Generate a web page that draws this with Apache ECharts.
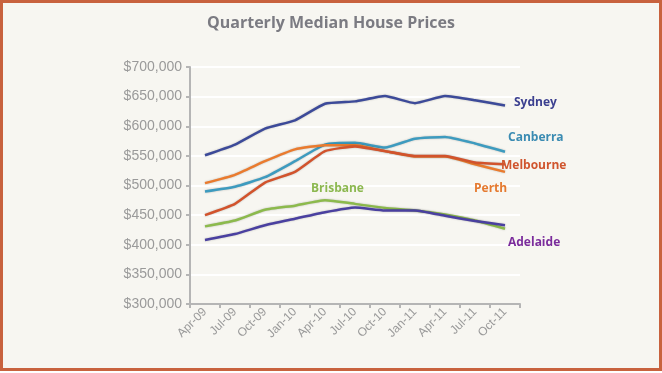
<!DOCTYPE html>
<html><head><meta charset="utf-8">
<script src="https://cdn.jsdelivr.net/npm/echarts@6/dist/echarts.min.js"></script>
<style>
html,body{margin:0;padding:0;background:#fff;}
#c{position:absolute;left:0;top:0;width:656px;height:365px;border:3px solid #c8623e;background:#f7f6f1;}
</style></head>
<body><div id="c"></div>
<script>
const categories = ['Apr-09','Jul-09','Oct-09','Jan-10','Apr-10','Jul-10','Oct-10','Jan-11','Apr-11','Jul-11','Oct-11'];
const sydney    = [551000,569000,596000,610000,638000,642000,651000,639000,651000,644000,635000];
const canberra  = [490000,498000,514000,541000,569000,572000,564000,579000,582000,571000,557000];
const melbourne = [450000,469000,505000,523000,558000,566000,558000,550000,550000,539000,536000];
const perth     = [504000,518000,541000,561000,568000,568000,558000,549000,549000,536000,523000];
const brisbane  = [431000,441000,459000,466000,475000,469000,462000,458000,451000,441000,427000];
const adelaide  = [408000,418000,433000,444000,455000,463000,458000,458000,449000,440000,433000];
const yTicks = [300000,350000,400000,450000,500000,550000,600000,650000,700000];

const chart = echarts.init(document.getElementById('c'));
function mk(name, data, color){
  return {name, type:'line', data, symbol:'none', smooth:0.15,
    lineStyle:{color, width:2.5, shadowColor:'rgba(0,0,0,0.25)', shadowBlur:2},
    itemStyle:{color}};
}
function lbl(text, x, y, color){
  return {type:'text', left:x, top:y, z:100, style:{text, fill:color, font:'bold 12px "Open Sans", sans-serif'}};
}
chart.setOption({
  animation:false,
  title:{text:'Quarterly Median House Prices', left:'center', top:7,
    textStyle:{color:'#7b7b82', fontSize:16, fontWeight:'bold', fontFamily:'"Open Sans", sans-serif'}},
  grid:{left:187, right:139, top:64, bottom:64},
  xAxis:{type:'category', data:categories, boundaryGap:true,
    axisLine:{lineStyle:{color:'#b5b5b5', width:2}},
    axisTick:{show:true, length:4, lineStyle:{color:'#b5b5b5', width:2}},
    axisLabel:{rotate:45, color:'#9a9a9a', fontSize:12, margin:6, fontFamily:'"Liberation Sans", Arial, sans-serif'}},
  yAxis:{type:'value', min:yTicks[0], max:yTicks[yTicks.length-1], interval:50000,
    axisLine:{show:true, lineStyle:{color:'#b5b5b5', width:2}},
    axisTick:{show:true, length:4, lineStyle:{color:'#b5b5b5', width:2}},
    splitLine:{lineStyle:{color:'#ffffff', width:2}},
    axisLabel:{color:'#9a9a9a', fontSize:14, margin:8, fontFamily:'"Liberation Sans", Arial, sans-serif',
      formatter:v=>'$'+v.toLocaleString('en-US')}},
  series:[
    mk('Sydney', sydney, '#3c4a99'),
    mk('Canberra', canberra, '#3d9bbf'),
    mk('Perth', perth, '#ea7b2e'),
    mk('Melbourne', melbourne, '#d2532c'),
    mk('Brisbane', brisbane, '#8cba4c'),
    mk('Adelaide', adelaide, '#4a40a0')
  ],
  graphic:[
    lbl('Sydney', 511, 94, '#3c4090'),
    lbl('Canberra', 505, 129, '#3a8bb2'),
    lbl('Melbourne', 498, 157, '#d0552e'),
    lbl('Perth', 471, 180, '#e57a30'),
    lbl('Brisbane', 308, 180, '#8cb850'),
    lbl('Adelaide', 505, 234, '#7b2c9c')
  ]
});
</script></body></html>
